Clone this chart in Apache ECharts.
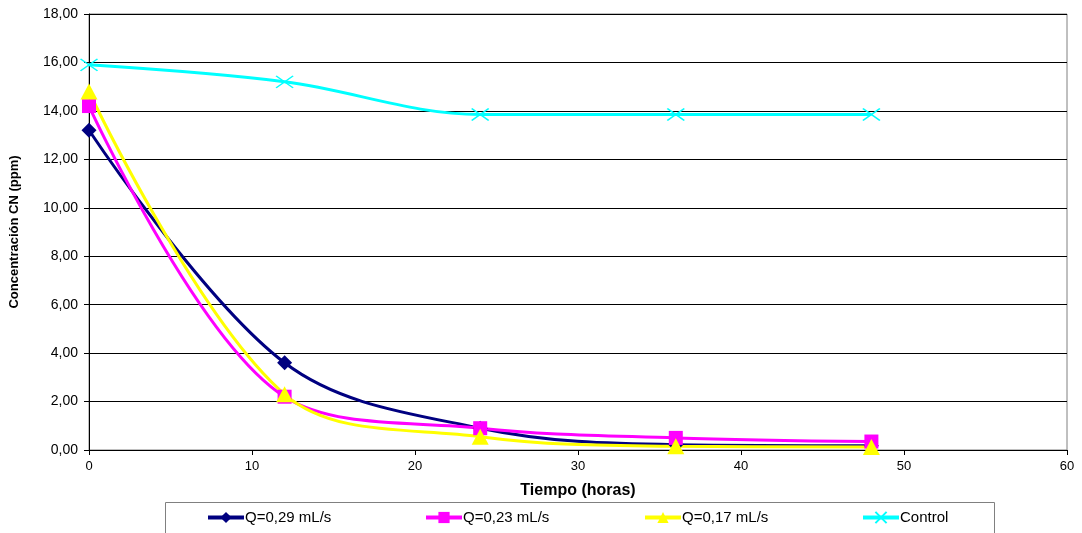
<!DOCTYPE html>
<html>
<head>
<meta charset="utf-8">
<script src="https://cdn.jsdelivr.net/npm/echarts@6/dist/echarts.min.js"></script>
<style>
  html, body { margin: 0; padding: 0; background: #fff; }
  #chart { width: 1082px; height: 533px; }
</style>
</head>
<body>
<div id="chart"></div>
<script>
// Sampling times (hours)
const hours = [0, 12, 24, 36, 48];

// Cyanide concentration (ppm) for each flow rate
const q029 = [13.2, 3.6, 0.9, 0.22, 0.18];
const q023 = [14.2, 2.2, 0.9, 0.5, 0.35];
const q017 = [14.8, 2.3, 0.55, 0.15, 0.12];
const control = [15.9, 15.2, 13.85, 13.85, 13.85];

const seriesNames = ['Q=0,29 mL/s', 'Q=0,23 mL/s', 'Q=0,17 mL/s', 'Control'];
const seriesValues = [q029, q023, q017, control];
const seriesColors = ['#000080', '#FF00FF', '#FFFF00', '#00FFFF'];
const seriesSymbols = ['diamond', 'rect', 'triangle', 'path://M0,0L10,8M10,0L0,8'];
const seriesSymbolSizes = [[15, 15], [14, 14], [17, 16], [17, 12]];

const FONT = 'Liberation Sans, Arial, sans-serif';

const series = seriesNames.map((name, i) => {
  const isX = i === 3;
  return {
    name: name,
    type: 'line',
    smooth: 0.35,
    data: hours.map((h, k) => [h, seriesValues[i][k]]),
    symbol: seriesSymbols[i],
    symbolSize: seriesSymbolSizes[i],
    showAllSymbol: true,
    lineStyle: { color: seriesColors[i], width: 3 },
    itemStyle: isX
      ? { color: 'rgba(0,0,0,0)', borderColor: seriesColors[i], borderWidth: 1.5 }
      : { color: seriesColors[i], borderWidth: 0 },
    emphasis: { disabled: true }
  };
});

// One legend per entry so each sits at its own slot inside the frame
const legendLefts = [206, 424, 643, 861];
const legends = seriesNames.map((name, i) => ({
  data: [name],
  left: legendLefts[i],
  top: 510,
  itemWidth: 36,
  itemHeight: 14,
  padding: 0,
  lineStyle: { width: 4 },
  textStyle: { fontFamily: FONT, fontSize: 15, color: '#000', padding: [0, 0, 0, -4] },
  selectedMode: false
}));

const chart = echarts.init(document.getElementById('chart'), null, { renderer: 'canvas' });
chart.setOption({
  animation: false,
  backgroundColor: '#fff',
  grid: {
    left: 88, right: 15, top: 14, bottom: 83,
    show: true, borderColor: '#808080', borderWidth: 1, backgroundColor: 'transparent'
  },
  legend: legends,
  graphic: [{
    type: 'rect',
    left: 163, top: 500,
    shape: { width: 829, height: 50 },
    style: { fill: 'none', stroke: '#808080', lineWidth: 1 },
    silent: true,
    z: -1
  }],
  xAxis: {
    type: 'value',
    min: 0, max: 60, interval: 10,
    name: 'Tiempo (horas)',
    nameLocation: 'middle',
    nameGap: 33,
    nameTextStyle: { fontFamily: FONT, fontSize: 16, fontWeight: 'bold', color: '#000' },
    axisLine: { show: true, lineStyle: { color: '#000', width: 1 } },
    axisTick: { show: true, inside: false, length: 5, lineStyle: { color: '#000' } },
    axisLabel: { fontFamily: FONT, fontSize: 13, color: '#000', margin: 10 },
    splitLine: { show: false }
  },
  yAxis: {
    type: 'value',
    min: 0, max: 18, interval: 2,
    name: 'Concentración CN (ppm)',
    nameLocation: 'middle',
    nameGap: 68,
    nameRotate: 90,
    nameTextStyle: { fontFamily: FONT, fontSize: 13, fontWeight: 'bold', color: '#000' },
    axisLine: { show: true, lineStyle: { color: '#000', width: 1 } },
    axisTick: { show: true, inside: false, length: 5, lineStyle: { color: '#000' } },
    axisLabel: {
      fontFamily: FONT, fontSize: 14, color: '#000', margin: 11,
      formatter: v => v.toFixed(2).replace('.', ',')
    },
    splitLine: { show: true, lineStyle: { color: '#000', width: 1 } }
  },
  series: series
});
</script>
</body>
</html>
